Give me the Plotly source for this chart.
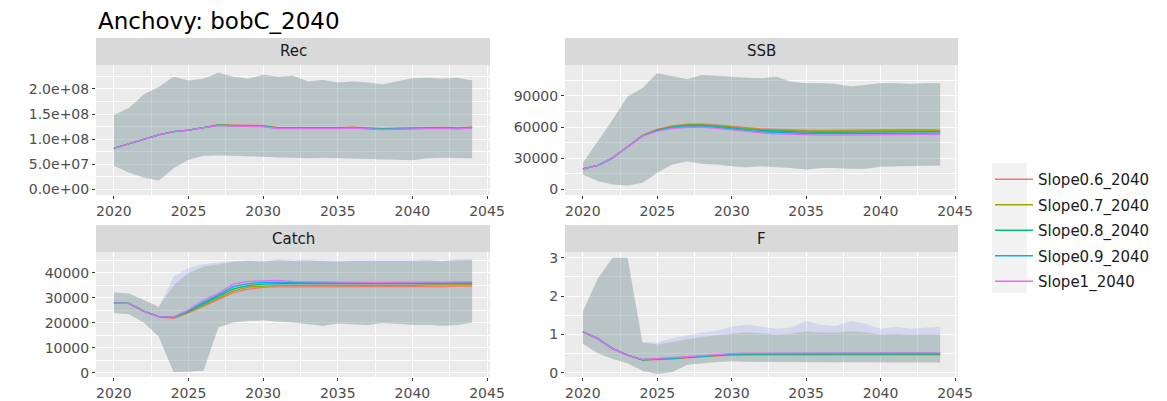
import plotly.graph_objects as go

# ---------------- data ----------------
years = list(range(2020, 2045))
scenarios = ["Slope0.6_2040", "Slope0.7_2040", "Slope0.8_2040", "Slope0.9_2040", "Slope1_2040"]
colors = ["#F8766D", "#A3A500", "#00BF7D", "#00B0F6", "#E76BF3"]
panel_titles = ["Rec", "SSB", "Catch", "F"]
title_text = "Anchovy: bobC_2040"

# Rec (recruits)
rec_s06 = [82e6, 91e6, 99e6, 108.5e6, 115e6, 118e6, 123e6, 129e6, 128e6, 127e6, 127e6, 123e6, 123e6, 123e6, 122e6, 123e6, 124e6, 122e6, 121e6, 122e6, 123e6, 123e6, 123.5e6, 122.5e6, 124e6]
rec_s07 = [82e6, 91e6, 99e6, 108.5e6, 115e6, 118e6, 123e6, 128.5e6, 127.5e6, 126.5e6, 126.5e6, 122.5e6, 122.5e6, 122.5e6, 121.5e6, 122.5e6, 123.5e6, 121.5e6, 120.5e6, 121.5e6, 122.5e6, 122.5e6, 123e6, 122e6, 123.5e6]
rec_s08 = [82e6, 91e6, 99e6, 108.5e6, 115e6, 118e6, 123e6, 128e6, 127e6, 126e6, 126e6, 122e6, 122e6, 122e6, 121e6, 122e6, 123e6, 121e6, 120e6, 121e6, 122e6, 122e6, 122.5e6, 121.5e6, 123e6]
rec_s09 = [82e6, 91e6, 99e6, 108.5e6, 115e6, 118e6, 123e6, 127.5e6, 126.5e6, 125.5e6, 125.5e6, 121.5e6, 121.5e6, 121.5e6, 120.5e6, 121.5e6, 122.5e6, 120.5e6, 119.5e6, 120.5e6, 121.5e6, 121.5e6, 122e6, 121e6, 122.5e6]
rec_s10 = [82e6, 91e6, 99e6, 108.5e6, 115e6, 118e6, 123e6, 127e6, 126e6, 125e6, 125e6, 121e6, 121e6, 121e6, 120e6, 121e6, 122e6, 120e6, 119e6, 120e6, 121e6, 121e6, 121.5e6, 120.5e6, 122e6]
rec_hi = [148e6, 162e6, 189e6, 204e6, 224e6, 217e6, 220e6, 232e6, 224e6, 220e6, 228e6, 224e6, 226e6, 215e6, 218e6, 213e6, 215e6, 213e6, 209e6, 215e6, 221e6, 222e6, 220e6, 222e6, 217e6]
rec_lo = [47e6, 34e6, 24e6, 18e6, 42e6, 59e6, 67e6, 68e6, 67e6, 66e6, 65e6, 63e6, 63e6, 62e6, 63e6, 62e6, 62e6, 61e6, 60e6, 59e6, 58e6, 62e6, 63e6, 63e6, 62e6]

# SSB
ssb_s06 = [19800, 23000, 30300, 40900, 52000, 57800, 61000, 62800, 63000, 62000, 60500, 59300, 58300, 57700, 57200, 56900, 56800, 56800, 57000, 57000, 57200, 57400, 57600, 57500, 57300]
ssb_s07 = [19800, 23000, 30300, 40900, 51800, 57400, 60500, 62200, 62400, 61400, 59900, 58600, 57600, 57000, 56400, 56100, 56000, 56000, 56200, 56300, 56400, 56600, 56800, 56700, 56600]
ssb_s08 = [19800, 23000, 30300, 40900, 51600, 57000, 60000, 61500, 61600, 60600, 59000, 57700, 56700, 56000, 55400, 55100, 55000, 55000, 55200, 55300, 55400, 55600, 55700, 55600, 55500]
ssb_s09 = [19800, 23000, 30300, 40900, 51400, 56500, 59300, 60700, 60800, 59700, 58000, 56600, 55500, 54700, 54100, 53800, 53700, 53700, 53900, 54000, 54100, 54300, 54400, 54300, 54200]
ssb_s10 = [19800, 23000, 30300, 40900, 51200, 56000, 58600, 59800, 59800, 58700, 57000, 55500, 54300, 53400, 52800, 52400, 52300, 52300, 52500, 52600, 52700, 52900, 53000, 52900, 52800]
ssb_hi = [25500, 46000, 67000, 89400, 97300, 111700, 108500, 106000, 110000, 109000, 108500, 107500, 107000, 108500, 103700, 102100, 102100, 101500, 99000, 100500, 102100, 102100, 101500, 102100, 102100]
ssb_lo = [14400, 8000, 4800, 3800, 6400, 16000, 24000, 27100, 24600, 24000, 22300, 21400, 22300, 21700, 20700, 19100, 20700, 20700, 19800, 19800, 21700, 22300, 22300, 23000, 23000]

# Catch
catch_s06 = [27900, 27800, 24700, 22500, 21800, 24000, 26600, 29200, 32100, 33500, 34200, 34400, 34400, 34500, 34200, 34300, 34200, 34300, 34400, 34400, 34500, 34600, 34500, 34700, 34700]
catch_s07 = [27900, 27800, 24700, 22500, 22000, 24300, 27000, 29800, 32800, 34300, 34800, 35000, 35000, 35000, 34800, 34800, 34800, 34800, 34900, 34900, 35000, 35200, 35200, 35300, 35300]
catch_s08 = [27900, 27800, 24700, 22500, 22200, 24600, 27600, 30500, 33600, 34900, 35500, 35700, 35700, 35600, 35400, 35400, 35400, 35400, 35500, 35500, 35500, 35700, 35700, 35800, 35800]
catch_s09 = [27900, 27800, 24700, 22500, 22300, 24900, 28200, 31100, 34500, 35700, 36200, 36300, 36200, 36100, 36000, 35900, 35900, 35800, 35900, 35900, 35900, 36000, 36000, 36000, 36000]
catch_s10 = [27900, 27800, 24700, 22500, 22400, 25200, 29000, 31800, 35500, 36600, 36800, 37000, 36500, 36400, 36400, 36300, 36300, 36200, 36200, 36300, 36300, 36300, 36300, 36400, 36400]
catch_hi = [32200, 31800, 29200, 26400, 35000, 40000, 42500, 43500, 44400, 44800, 44500, 45100, 44800, 45000, 44800, 44500, 44800, 44800, 44600, 44800, 44800, 45000, 44600, 45100, 45200]
catch_hi_high = [32200, 31800, 29200, 26400, 38500, 42000, 43500, 44200, 44800, 45200, 45000, 45500, 45200, 45400, 45200, 45000, 45200, 45200, 45000, 45200, 45200, 45400, 45000, 45500, 45600]
catch_lo = [24000, 23600, 20100, 14500, 300, 500, 800, 18200, 20100, 20800, 21000, 20500, 20100, 19500, 18800, 19700, 19500, 19100, 19900, 19500, 19200, 19200, 18800, 19100, 20100]

# F
f_s06 = [1.07, 0.89, 0.63, 0.46, 0.33, 0.34, 0.36, 0.39, 0.42, 0.44, 0.46, 0.47, 0.47, 0.47, 0.47, 0.47, 0.47, 0.47, 0.47, 0.47, 0.46, 0.46, 0.46, 0.47, 0.47]
f_s07 = [1.07, 0.89, 0.63, 0.46, 0.335, 0.35, 0.37, 0.40, 0.43, 0.45, 0.47, 0.48, 0.48, 0.48, 0.48, 0.48, 0.48, 0.48, 0.48, 0.48, 0.48, 0.48, 0.48, 0.48, 0.48]
f_s08 = [1.07, 0.89, 0.63, 0.46, 0.34, 0.355, 0.375, 0.405, 0.435, 0.46, 0.48, 0.49, 0.49, 0.49, 0.49, 0.49, 0.49, 0.49, 0.49, 0.49, 0.49, 0.49, 0.49, 0.49, 0.49]
f_s09 = [1.07, 0.89, 0.63, 0.46, 0.345, 0.36, 0.38, 0.41, 0.44, 0.47, 0.49, 0.50, 0.50, 0.50, 0.50, 0.50, 0.50, 0.50, 0.51, 0.50, 0.50, 0.50, 0.50, 0.51, 0.51]
f_s10 = [1.07, 0.89, 0.63, 0.46, 0.35, 0.37, 0.39, 0.42, 0.45, 0.48, 0.50, 0.51, 0.51, 0.51, 0.51, 0.52, 0.52, 0.52, 0.52, 0.52, 0.51, 0.51, 0.52, 0.52, 0.52]
f_hi = [1.6, 2.45, 3.0, 3.0, 0.78, 0.74, 0.8, 0.87, 0.93, 0.98, 1.02, 1.05, 1.03, 1.0, 1.02, 1.08, 1.05, 1.05, 1.08, 1.05, 1.0, 1.02, 1.0, 1.0, 1.0]
f_hi_high = [1.6, 2.45, 3.0, 3.0, 0.8, 0.78, 0.9, 0.98, 1.05, 1.1, 1.2, 1.25, 1.2, 1.15, 1.18, 1.35, 1.25, 1.22, 1.35, 1.28, 1.15, 1.2, 1.15, 1.18, 1.2]
f_lo = [0.76, 0.51, 0.36, 0.25, 0.05, -0.03, 0.02, 0.21, 0.25, 0.28, 0.30, 0.29, 0.28, 0.28, 0.27, 0.28, 0.28, 0.28, 0.27, 0.27, 0.27, 0.27, 0.27, 0.27, 0.27]

rec_ticks = [0, 5e7, 1e8, 1.5e8, 2e8]
rec_ticktext = ["0.0e+00", "5.0e+07", "1.0e+08", "1.5e+08", "2.0e+08"]
ssb_ticks = [0, 30000, 60000, 90000]
catch_ticks = [0, 10000, 20000, 30000, 40000]
f_ticks = [0, 1, 2, 3]
x_ticks = [2020, 2025, 2030, 2035, 2040, 2045]

medians = {
    "Rec": [rec_s06, rec_s07, rec_s08, rec_s09, rec_s10],
    "SSB": [ssb_s06, ssb_s07, ssb_s08, ssb_s09, ssb_s10],
    "Catch": [catch_s06, catch_s07, catch_s08, catch_s09, catch_s10],
    "F": [f_s06, f_s07, f_s08, f_s09, f_s10],
}
uppers = {
    "Rec": [rec_hi] * 5,
    "SSB": [ssb_hi] * 5,
    "Catch": [catch_hi, catch_hi, catch_hi, catch_hi_high, catch_hi_high],
    "F": [f_hi, f_hi, f_hi, f_hi_high, f_hi_high],
}
lowers = {"Rec": [rec_lo] * 5, "SSB": [ssb_lo] * 5, "Catch": [catch_lo] * 5, "F": [f_lo] * 5}

# ---------------- layout geometry (pixels) ----------------
W, H = 1167, 401
def fx(p):
    return p / W
def fy(p):
    return 1 - p / H

panels = {
    "Rec": ("", 96, 490, 65, 195, [-1.1e7, 2.476e8], rec_ticks, rec_ticktext, 2.5e7),
    "SSB": ("2", 565, 958, 65, 195, [-5400, 119700], ssb_ticks, [str(v) for v in ssb_ticks], 15000),
    "Catch": ("3", 96, 490, 252, 377, [-1700, 48400], catch_ticks, [str(v) for v in catch_ticks], 5000),
    "F": ("4", 565, 958, 252, 377, [-0.11, 3.15], f_ticks, [str(v) for v in f_ticks], 0.5),
}

def rgba(hexc, a):
    h = hexc.lstrip("#")
    return "rgba(%d,%d,%d,%s)" % (int(h[0:2], 16), int(h[2:4], 16), int(h[4:6], 16), a)

fig = go.Figure()
FONT = "DejaVu Sans"

for name in panel_titles:
    suf = panels[name][0]
    xa, ya = "x" + suf, "y" + suf
    for i, sc in enumerate(scenarios):
        hi = uppers[name][i]
        lo = lowers[name][i]
        fig.add_trace(go.Scatter(
            x=years + years[::-1], y=hi + lo[::-1], mode="lines", fill="toself",
            fillcolor=rgba(colors[i], 0.11), line=dict(width=0), hoverinfo="skip",
            showlegend=False, xaxis=xa, yaxis=ya))
    for i, sc in enumerate(scenarios):
        fig.add_trace(go.Scatter(
            x=years, y=medians[name][i], mode="lines", name=sc,
            line=dict(color=colors[i], width=1.3), legendgroup=sc,
            showlegend=(name == "Rec"), xaxis=xa, yaxis=ya))

layout = dict(
    width=W, height=H, margin=dict(l=0, r=0, t=0, b=0, autoexpand=False),
    paper_bgcolor="white", plot_bgcolor="#EBEBEB",
    font=dict(family=FONT, color="#4D4D4D"),
    showlegend=True,
    legend=dict(x=fx(990), y=fy(163), xanchor="left", yanchor="top",
                bgcolor="rgba(0,0,0,0)", font=dict(size=15, color="#1A1A1A", family=FONT),
                tracegroupgap=3, itemwidth=38),
)

shapes = []
annotations = []
for name in panel_titles:
    suf, x0, x1, yt, yb, yr, tv, tt, mn = panels[name]
    xkey = "xaxis" + suf
    ykey = "yaxis" + suf
    layout[xkey] = dict(
        domain=[fx(x0), fx(x1)], range=[2018.8, 2045.2], anchor="y" + suf,
        tickvals=x_ticks, ticktext=[str(v) for v in x_ticks],
        ticks="outside", ticklen=3, tickwidth=1, tickcolor="#333333",
        showgrid=True, gridcolor="white", gridwidth=1.3, zeroline=False, showline=False,
        tickfont=dict(size=14, color="#4D4D4D", family=FONT),
        minor=dict(tick0=2020, dtick=2.5, showgrid=True, gridcolor="white", gridwidth=0.6, ticklen=0),
    )
    layout[ykey] = dict(
        domain=[fy(yb), fy(yt)], range=yr, anchor="x" + suf,
        tickvals=tv, ticktext=tt,
        ticks="outside", ticklen=3, tickwidth=1, tickcolor="#333333",
        showgrid=True, gridcolor="white", gridwidth=1.3, zeroline=False, showline=False,
        tickfont=dict(size=14, color="#4D4D4D", family=FONT),
        minor=dict(tick0=0, dtick=mn, showgrid=True, gridcolor="white", gridwidth=0.6, ticklen=0),
    )
    shapes.append(dict(type="rect", xref="paper", yref="paper",
                       x0=fx(x0), x1=fx(x1), y0=fy(yt), y1=fy(yt - 27),
                       fillcolor="#D9D9D9", line=dict(width=0), layer="below"))
    annotations.append(dict(text=name, xref="paper", yref="paper",
                            x=fx((x0 + x1) / 2), y=fy(yt - 13.5), xanchor="center", yanchor="middle",
                            showarrow=False, font=dict(size=15, color="#1A1A1A", family=FONT)))

shapes.append(dict(type="rect", xref="paper", yref="paper",
                   x0=fx(992), x1=fx(1027), y0=fy(293), y1=fy(163),
                   fillcolor="#F2F2F2", line=dict(width=0), layer="below"))

annotations.append(dict(text=title_text, xref="paper", yref="paper", x=fx(96), y=fy(21),
                        xanchor="left", yanchor="middle", showarrow=False,
                        font=dict(size=23, color="#000000", family=FONT)))

layout["shapes"] = shapes
layout["annotations"] = annotations
fig.update_layout(**layout)

fig.write_html("out.html")
